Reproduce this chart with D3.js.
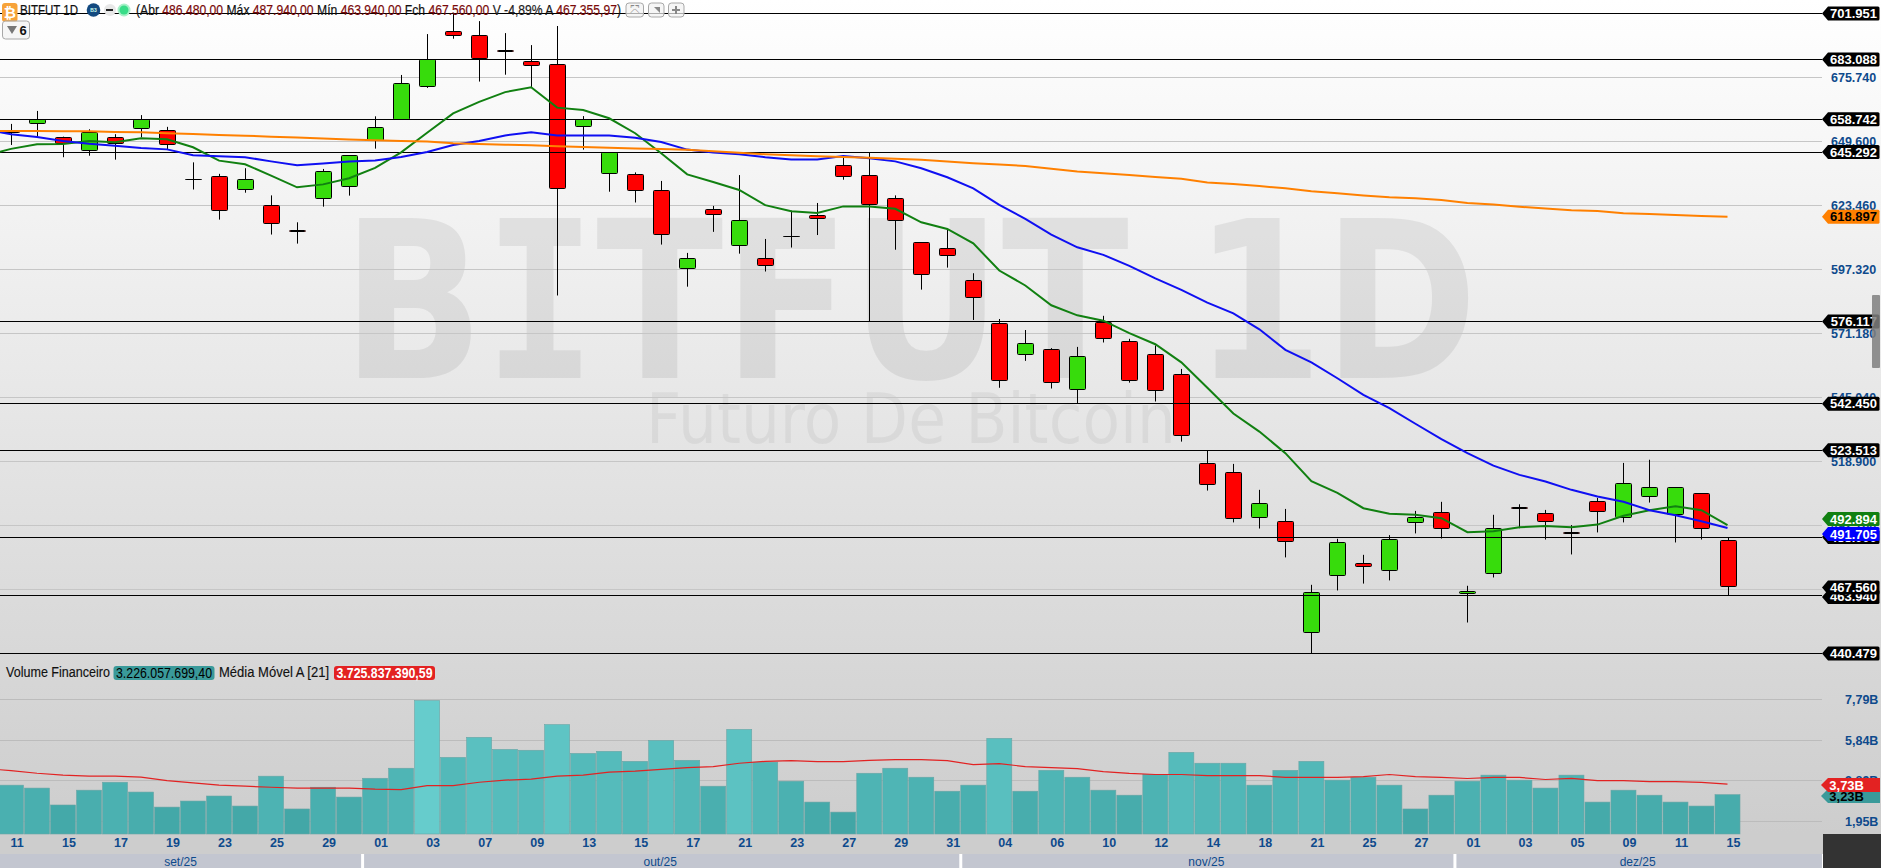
<!DOCTYPE html>
<html><head><meta charset="utf-8">
<style>
html,body{margin:0;padding:0;overflow:hidden;background:#fff}
svg{display:block}
text{font-family:"Liberation Sans",Arial,sans-serif}
.tick text{font-family:"Liberation Sans",Arial,sans-serif}
</style>
<script src="https://cdnjs.cloudflare.com/ajax/libs/d3/7.8.5/d3.min.js"></script>
</head><body><svg id="c" width="1881" height="868"></svg>
<script>
// ---------- data ----------
const dates = ["11","12","15","16","17","18","19","22","23","24","25","26","29","30","01","02","03","06","07","08","09","10","13","14","15","16","17","20","21","22","23","24","27","28","29","30","31","03","04","05","06","07","10","11","12","13","14","17","18","19","21","24","25","26","27","28","01","02","03","04","05","08","09","10","11","12","15"];
const opens  = [653.5,657.1,651.3,646.0,651.3,654.6,654.2,633.9,635.4,630.1,623.6,613.3,626.4,631.3,650.1,658.7,672.2,694.6,693.0,686.8,682.4,681.1,655.4,636.6,636.2,629.7,597.8,621.9,607.2,601.9,611.0,619.5,639.9,635.8,626.4,608.4,606.0,592.9,575.4,562.7,564.75,548.4,575.8,568.0,562.7,554.5,518.2,514.5,496.1,494.5,449.2,472.4,477.2,474.5,494.1,498.2,465.1,473.3,500.0,497.8,489.8,502.7,496.1,504.7,497.4,505.9,486.48];
const highs  = [656.8,662.1,651.6,654.6,652.6,660.4,655.6,641.1,636.4,638.7,627.6,616.6,638.4,644.1,659.9,676.8,693.5,702.0,698.8,693.9,689.0,696.8,660.0,645.2,637.0,633.5,604.1,623.3,635.9,609.8,621.4,624.5,643.2,645.1,627.6,608.4,613.5,595.8,577.1,572.6,565.2,565.7,578.4,569.0,566.3,556.7,523.5,517.9,507.3,499.5,468.5,487.3,480.75,488.8,498.7,502.4,468.1,497.1,501.4,499.1,492.9,504.0,518.3,519.6,508.4,505.9,487.94];
const lows   = [648.2,651.6,643.2,643.8,642.2,651.3,646.2,630.0,617.7,628.7,611.6,607.9,623.0,627.5,646.7,658.7,671.5,691.6,674.1,676.9,671.75,586.7,646.3,629.1,624.7,607.5,590.3,612.7,603.8,596.5,606.3,611.4,634.0,576.1,605.4,589.1,598.1,576.7,549.0,560.0,548.7,542.7,567.5,551.1,543.4,527.0,507.0,494.0,491.5,479.7,440.48,466.2,469.0,470.3,489.5,487.4,453.1,471.5,491.6,487.0,480.9,489.9,494.0,502.1,485.8,487.0,463.94];
const closes = [653.3,658.7,648.7,653.4,648.9,658.4,648.5,633.7,621.5,634.2,616.2,613.1,637.4,644.0,655.4,673.4,683.2,693.0,683.5,686.6,680.7,630.5,658.4,645.2,629.7,611.7,601.9,619.9,617.4,599.0,610.8,618.3,635.4,624.0,617.4,595.4,603.0,586.0,552.1,567.2,551.3,561.9,569.2,552.1,548.0,529.6,509.6,495.7,501.9,486.3,465.5,485.9,476.1,487.2,496.1,491.6,465.9,491.6,499.8,494.5,489.6,498.6,510.0,508.4,508.4,491.6,467.56];
// moving averages begin one session before the first candle (line enters from the left edge)
const maGreen  = [643.8,646.6,648.5,648.6,649.8,649.3,650.9,650.5,647.25,641.8,640.3,635.7,630.9,632.1,634.6,638.8,645.2,653.2,661.1,665.8,669.8,671.75,663.45,662.5,659.1,653.0,644.8,636.2,633.1,629.8,623.6,621.1,620.4,623.1,623.1,622.1,616.6,613.9,608.0,596.9,590.8,582.7,578.6,576.4,571.3,566.8,559.4,549.0,538.5,531.1,522.3,510.8,506.1,499.8,497.5,497.1,495.7,490.0,490.4,492.0,492.5,492.0,493.1,496.7,499.0,500.6,499.0,492.894];
const maBlue   = [654.5,652.56,651.5,649.8,648.7,647.9,647.0,646.4,644.0,643.6,643.2,641.5,639.9,640.6,641.4,641.9,643.3,645.3,648.2,649.8,652.1,653.4,652.1,652.1,652.1,651.1,649.4,646.3,645.1,644.4,643.2,642.3,642.3,643.7,642.75,641.5,638.7,635.0,630.5,623.7,618.0,611.6,606.4,603.3,598.8,593.7,589.0,583.8,579.4,572.9,564.5,559.4,552.9,546.1,540.65,534.3,528.0,522.3,517.2,513.4,510.7,507.3,504.6,502.4,499.0,496.95,494.5,491.705];
const maOrange = [654.0,653.9,653.9,653.85,653.8,653.5,653.4,653.0,652.7,652.3,652.0,651.6,651.2,650.8,650.4,650.1,649.8,649.6,648.9,648.6,648.3,648.1,647.7,647.4,647.1,646.8,646.6,646.2,645.6,645.0,644.4,644.0,643.6,643.3,643.0,642.6,642.2,641.4,640.7,640.2,639.6,638.5,637.4,636.6,635.9,635.1,634.4,632.9,632.3,631.4,630.5,629.3,628.5,627.6,626.8,626.4,625.7,624.5,623.9,623.0,622.2,621.5,621.2,620.3,620.0,619.6,619.2,618.897];
const volumes  = [3.68,3.54,2.73,3.44,3.82,3.35,2.63,2.92,3.16,2.68,4.11,2.54,3.58,3.11,4.01,4.49,7.73,5.01,5.97,5.39,5.35,6.58,5.20,5.30,4.82,5.82,4.87,3.63,6.35,4.78,3.87,2.87,2.39,4.25,4.49,4.06,3.39,3.68,5.92,3.39,4.39,4.06,3.44,3.20,4.20,5.25,4.73,4.73,3.68,4.39,4.82,3.92,4.06,3.68,2.54,3.20,3.87,4.16,3.92,3.54,4.16,2.87,3.44,3.20,2.87,2.68,3.226];
const volMA    = [4.47,4.38,4.25,4.16,4.11,4.11,4.06,3.90,3.79,3.68,3.63,3.58,3.54,3.54,3.54,3.49,3.47,3.66,3.66,3.82,3.92,3.97,4.11,4.16,4.30,4.35,4.44,4.52,4.57,4.73,4.82,4.85,4.81,4.81,4.87,4.90,4.90,4.85,4.66,4.71,4.57,4.52,4.47,4.33,4.24,4.19,4.19,4.14,4.14,4.14,4.05,4.05,4.05,4.09,4.19,4.09,4.05,4.00,4.05,4.05,3.95,4.00,3.90,3.90,3.85,3.85,3.81,3.726];
const priceTicks = [675.74,649.6,623.46,597.32,571.18,545.04,518.9,492.76,466.62];
const volumeTicks = [7.79,5.84,3.89,1.95];
const levelLines = [701.951,683.088,658.742,645.292,576.117,542.45,523.513,488.0,463.94,440.479];
const monthNames = ["set/25","out/25","nov/25","dez/25"];
const monthEnds  = [14,37,56,67];

// ---------- layout ----------
const W=1881,H=868,plotR=1822,plotB=834;
const svg=d3.select("#c");
const x=d3.scaleLinear().domain([0,66]).range([11,1727.5]);
const y=d3.scaleLinear().domain([440.479,701.951]).range([653.4,13.4]);
const v=d3.scaleLinear().domain([1.95,7.79]).range([821.3,699.3]);
const bw=x(1)-x(0);
const font='"Liberation Sans",Arial,sans-serif';
const blue="#0e4a8c";
const crisp=p=>Math.floor(p)+.5;

// background
const defs=svg.append("defs");
const bg=defs.append("linearGradient").attr("id","bg").attr("x1",0).attr("y1",0).attr("x2",0).attr("y2",1);
bg.append("stop").attr("offset",0).attr("stop-color","#ffffff");
bg.append("stop").attr("offset",1).attr("stop-color","#cdcdcd");
svg.append("rect").attr("width",W).attr("height",plotB).attr("fill","url(#bg)");
svg.append("rect").attr("y",plotB).attr("width",W).attr("height",20).attr("fill","#cdcdcd");

// watermark
const wm=svg.append("text").attr("x",342).attr("y",378).attr("font-size",220).attr("font-weight","bold")
  .attr("textLength",1136).attr("lengthAdjust","spacingAndGlyphs")
  .attr("fill","#000").attr("fill-opacity",.07).style("font-family",'"DejaVu Sans",sans-serif');
wm.append("tspan").text("B");
wm.append("tspan").style("font-family",'"DejaVu Sans Mono",monospace').text("I");
wm.append("tspan").text("TFUT 1D");
svg.append("text").attr("x",646).attr("y",443).attr("font-size",70)
  .style("font-family",'"DejaVu Sans",sans-serif').attr("textLength",530).attr("lengthAdjust","spacingAndGlyphs")
  .attr("fill","#000").attr("fill-opacity",.05).text("Futuro De Bitcoin");

// grid
const gridColor="#c6c6c6";
svg.append("g").selectAll("line").data(priceTicks).join("line")
  .attr("x1",0).attr("x2",plotR).attr("y1",d=>crisp(y(d))).attr("y2",d=>crisp(y(d))).attr("stroke",gridColor).attr("stroke-width",1);
svg.append("g").selectAll("line").data(volumeTicks).join("line")
  .attr("x1",0).attr("x2",plotR).attr("y1",d=>crisp(v(d))).attr("y2",d=>crisp(v(d))).attr("stroke","#bcbcbc").attr("stroke-width",1);

// volume bars
const volColor=d3.scaleLinear().domain([2.39,4,7.73]).range(["#42a6a6","#4cb2b2","#66cccc"]);
svg.append("g").selectAll("rect").data(volumes).join("rect")
  .attr("x",(d,i)=>x(i)-bw/2+.5).attr("width",bw-1)
  .attr("y",d=>v(d)).attr("height",d=>plotB-v(d))
  .attr("fill",d=>volColor(d)).attr("stroke","#6aa5a5").attr("stroke-width",.6);

// candles
const candles=d3.range(dates.length).map(i=>({i,o:opens[i],h:highs[i],l:lows[i],c:closes[i]}));
const cg=svg.append("g");
cg.selectAll("line").data(candles).join("line")
  .attr("x1",d=>Math.round(x(d.i))+.5).attr("x2",d=>Math.round(x(d.i))+.5)
  .attr("y1",d=>y(d.h)).attr("y2",d=>y(d.l)).attr("stroke","#000").attr("stroke-width",1);
cg.selectAll("rect").data(candles).join("rect")
  .attr("x",d=>Math.round(x(d.i))-7.5).attr("width",16)
  .attr("y",d=>crisp(y(Math.max(d.o,d.c))))
  .attr("height",d=>Math.max(Math.round(Math.abs(y(d.o)-y(d.c))),d.i===7||d.i===30?.01:1))
  .attr("rx",1)
  .attr("fill",d=>d.c>=d.o?"#37dc0c":"#ff0000").attr("stroke","#000").attr("stroke-width",1);

// level lines
svg.append("g").selectAll("line").data(levelLines).join("line")
  .attr("x1",0).attr("x2",plotR).attr("y1",d=>crisp(y(d))).attr("y2",d=>crisp(y(d))).attr("stroke","#000").attr("stroke-width",1);

// moving averages
const lineP=d3.line().x((d,i)=>x(i-1)).y(d=>y(d));
const lineV=d3.line().x((d,i)=>x(i-1)).y(d=>v(d));
svg.append("path").attr("d",lineP(maGreen)).attr("fill","none").attr("stroke","#118011").attr("stroke-width",2);
svg.append("path").attr("d",lineP(maBlue)).attr("fill","none").attr("stroke","#0f0ff2").attr("stroke-width",2);
svg.append("path").attr("d",lineP(maOrange)).attr("fill","none").attr("stroke","#ff8000").attr("stroke-width",2);
svg.append("path").attr("d",lineV(volMA)).attr("fill","none").attr("stroke","#e22222").attr("stroke-width",1.2);

// axes
const axP=d3.axisRight(y).tickValues(priceTicks).tickSize(0).tickPadding(9).tickFormat(d3.format(".3f"));
const axV=d3.axisRight(v).tickValues(volumeTicks).tickSize(0).tickPadding(23).tickFormat(d=>d3.format(".2f")(d).replace(".",",")+"B");
const axX=d3.axisBottom(d3.scaleLinear().domain(x.domain()).range(x.range().map(r=>r+5.5)))
  .tickValues(d3.range(0,dates.length,2)).tickSize(0).tickPadding(4).tickFormat(i=>dates[i]);
[[svg.append("g").attr("transform",`translate(${plotR},0)`).call(axP)],
 [svg.append("g").attr("transform",`translate(${plotR},0)`).call(axV)],
 [svg.append("g").attr("transform",`translate(0,${plotB})`).call(axX)]].forEach(([g])=>{
  g.select(".domain").remove();
  g.selectAll("text").attr("fill",blue).attr("font-size",12.5).attr("font-weight","bold")
   .style("font-family",font);
});

// month strip
const mStart=[0].concat(monthEnds.slice(0,-1));
const mEdge=k=>k<=0?0:(k>=67?plotR:x(k)-bw/2-1);
svg.append("g").selectAll("rect").data(monthNames).join("rect")
  .attr("x",(d,k)=>k==0?0:mEdge(mStart[k])+3).attr("width",(d,k)=>mEdge(monthEnds[k])-(k==0?0:mEdge(mStart[k])+3))
  .attr("y",854).attr("height",14).attr("fill","#c3c6d0");
svg.append("g").selectAll("text").data(monthNames).join("text")
  .attr("x",(d,k)=>(mEdge(mStart[k])+mEdge(monthEnds[k]))/2).attr("y",865.5).attr("text-anchor","middle")
  .attr("fill",blue).attr("font-size",12).text(d=>d);
svg.append("rect").attr("x",plotR+1).attr("y",plotB).attr("width",W-plotR).attr("height",H-plotB).attr("fill","#333333");

// value tags at the right
function tag(cy,fill,color,label){
  const g=svg.append("g");
  const t=7;
  g.append("path").attr("d",`M${plotR},${cy}L${plotR+6},${cy-t}H1878q1.5,0 1.5,1.5V${cy+t-1.5}q0,1.5 -1.5,1.5H${plotR+6}Z`).attr("fill",fill);
  g.append("text").attr("x",1877).attr("y",cy+4.5).attr("text-anchor","end").attr("font-size",13).attr("font-weight","bold").attr("fill",color).text(label);
}
const tags=[
 [y(701.951),"#000","#fff",d3.format(".3f")(701.951)],
 [y(683.088),"#000","#fff",d3.format(".3f")(683.088)],
 [y(658.742),"#000","#fff",d3.format(".3f")(658.742)],
 [y(645.292),"#000","#fff",d3.format(".3f")(645.292)],
 [y(618.897),"#ff8000","#000",d3.format(".3f")(618.897)],
 [y(576.117),"#000","#fff",d3.format(".3f")(576.117)],
 [y(542.45),"#000","#fff",d3.format(".3f")(542.45)],
 [y(523.513),"#000","#fff",d3.format(".3f")(523.513)],
 [y(440.479),"#000","#fff",d3.format(".3f")(440.479)],
 [y(463.94)+1,"#000","#fff",d3.format(".3f")(463.94)],
 [587.4,"#000","#fff",d3.format(".3f")(467.56)],
 [y(488.0),"#000","#fff",d3.format(".3f")(488.0)],
 [519,"#118011","#fff",d3.format(".3f")(492.894)],
 [534,"#0000ff","#fff",d3.format(".3f")(491.705)]
];
tags.forEach(a=>tag(...a));
function vtag(cy,fill,color,label){
  const g=svg.append("g");
  g.append("path").attr("d",`M${plotR-1},${cy}L${plotR+6},${cy-7}H1880V${cy+7}H${plotR+6}Z`).attr("fill",fill);
  g.append("text").attr("x",1864).attr("y",cy+4.5).attr("text-anchor","end").attr("font-size",13).attr("font-weight","bold").attr("fill",color).text(label);
}
vtag(796,"#3a9a9a","#000","3,23B");
vtag(785,"#e32222","#fff","3,73B");

// scrollbar handle
svg.append("rect").attr("x",1872).attr("y",295).attr("width",8).attr("height",73).attr("rx",1).attr("fill","#7f7f7f").attr("fill-opacity",.85);

// header
const hdrBg=svg.append("g");
hdrBg.append("rect").attr("x",2).attr("y",3).attr("width",15.5).attr("height",19).attr("rx",3).attr("fill","#f7a33a");
hdrBg.append("text").attr("x",9.8).attr("y",18).attr("text-anchor","middle").attr("font-size",15).attr("font-weight","bold").attr("fill","#fff").text("₿");
svg.append("text").attr("x",20).attr("y",15).attr("font-size",14.5).attr("fill","#111").attr("stroke","#111").attr("stroke-width",.2).attr("textLength",58).attr("lengthAdjust","spacingAndGlyphs").text("BITFUT 1D");
svg.append("circle").attr("cx",93.5).attr("cy",10).attr("r",6.8).attr("fill","#134a80");
svg.append("text").attr("x",93.5).attr("y",12).attr("text-anchor","middle").attr("font-size",5).attr("font-weight","bold").attr("fill","#cfe").text("B3");
svg.append("circle").attr("cx",110).attr("cy",10).attr("r",6).attr("fill","#e8e8e8");
svg.append("rect").attr("x",106).attr("y",9).attr("width",7).attr("height",2).attr("fill","#222");
svg.append("circle").attr("cx",124).attr("cy",10).attr("r",6.5).attr("fill","#a8f0c8");
svg.append("circle").attr("cx",124).attr("cy",10).attr("r",4.5).attr("fill","#38dd88");

const hdrParts=[["(Abr ","#111"],["486.480,00","#7a0a0a"],[" Máx ","#111"],["487.940,00","#7a0a0a"],[" Mín ","#111"],["463.940,00","#7a0a0a"],[" Fch ","#111"],["467.560,00","#7a0a0a"],[" V -4,89%","#222"],[" A ","#111"],["467.355,97","#7a0a0a"],[")","#111"]];
const ht=svg.append("text").attr("x",136).attr("y",15).attr("font-size",14.5).attr("stroke-width",.2).attr("textLength",485).attr("lengthAdjust","spacingAndGlyphs").style("white-space","pre");
ht.selectAll("tspan").data(hdrParts).join("tspan").attr("fill",d=>d[1]).attr("stroke",d=>d[1]).text(d=>d[0]);

// small buttons
function btn(x0,w,y0,h){svg.append("rect").attr("x",x0).attr("y",y0).attr("width",w).attr("height",h).attr("rx",3).attr("fill","#f2f2f2").attr("fill-opacity",.7).attr("stroke","#a8a8a8");}
btn(626,17.5,3,14);btn(648.5,15.5,3,14);btn(668.5,15.5,3,14);
svg.append("text").attr("x",635).attr("y",14).attr("text-anchor","middle").attr("font-size",12).attr("fill","#888").text("⤧");
svg.append("path").attr("d","M654,7h6v6z").attr("fill","#888");
svg.append("path").attr("d","M672,10h8M676,6v8").attr("stroke","#888").attr("stroke-width",2);
btn(2.5,27,21,18);
svg.append("path").attr("d","M7,26h10l-5,8z").attr("fill","#777");
svg.append("text").attr("x",19.5).attr("y",35).attr("font-size",13).attr("font-weight","bold").attr("fill","#111").text("6");

// volume legend
svg.append("text").attr("x",6).attr("y",677).attr("font-size",14).attr("fill","#111").attr("stroke","#111").attr("stroke-width",.15).attr("textLength",104).attr("lengthAdjust","spacingAndGlyphs").text("Volume Financeiro");
svg.append("rect").attr("x",113.5).attr("y",666).attr("width",101).attr("height",14).attr("rx",3).attr("fill","#3a9a9a");
svg.append("text").attr("x",116).attr("y",677.5).attr("font-size",14).attr("fill","#000").attr("textLength",96).attr("lengthAdjust","spacingAndGlyphs").text("3.226.057.699,40");
svg.append("text").attr("x",219).attr("y",677).attr("font-size",14).attr("fill","#111").attr("stroke","#111").attr("stroke-width",.15).attr("textLength",110).attr("lengthAdjust","spacingAndGlyphs").text("Média Móvel A [21]");
svg.append("rect").attr("x",334).attr("y",666).attr("width",101).attr("height",14).attr("rx",3).attr("fill","#e32222");
svg.append("text").attr("x",336.5).attr("y",677.5).attr("font-size",14).attr("font-weight","bold").attr("fill","#fff").attr("textLength",96).attr("lengthAdjust","spacingAndGlyphs").text("3.725.837.390,59");
</script></body></html>
